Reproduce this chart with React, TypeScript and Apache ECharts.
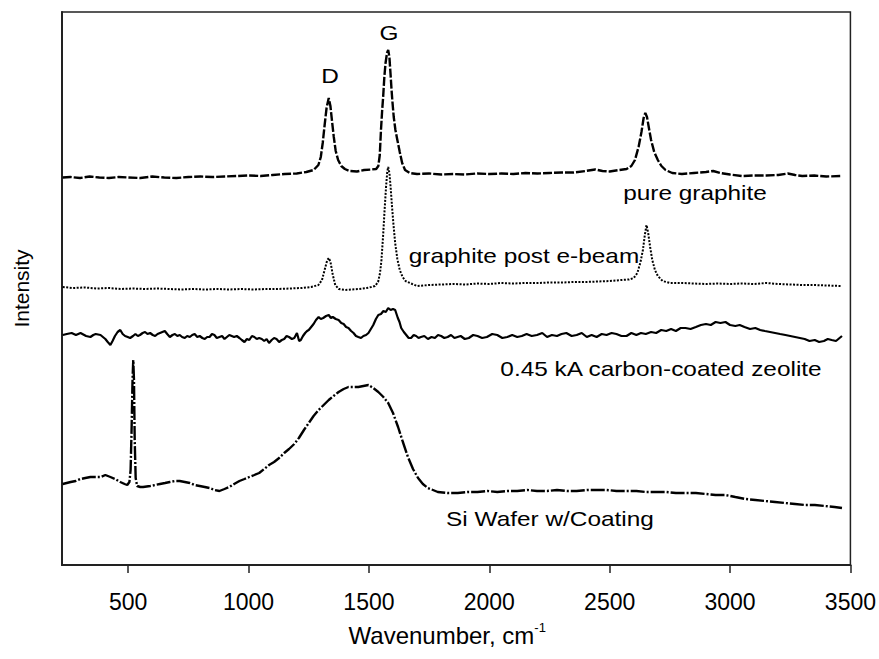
import React, { useEffect, useRef } from "react";
import * as echarts from "echarts";

// Raman spectra, wavenumber (cm-1) vs. intensity (arbitrary units, stacked offsets)
const pureGraphite: number[][] = [
  [228, 387.5], [260, 388], [300, 387], [340, 388.5], [380, 387.5], [420, 387], [460, 388], [500, 387.5],
  [550, 387], [600, 388.5], [650, 387.5], [700, 387], [750, 388], [800, 388.5], [850, 388], [900, 388.5],
  [950, 389], [1000, 389.5], [1050, 389], [1100, 390], [1150, 391], [1200, 391.5], [1240, 393], [1270, 395],
  [1290, 400], [1300, 408], [1308, 422], [1316, 440], [1324, 457], [1333, 467], [1340, 459], [1347, 443],
  [1354, 428], [1362, 414], [1372, 405], [1385, 399], [1400, 396], [1420, 394], [1450, 393.5], [1480, 395],
  [1510, 395.5], [1530, 396], [1539, 399], [1545, 410], [1550, 435], [1555, 455], [1559, 468], [1564, 488],
  [1569, 502], [1575, 512], [1580, 515], [1585, 508], [1590, 490], [1594, 475], [1597, 465], [1603, 448],
  [1610, 435], [1618, 425], [1628, 413], [1638, 402], [1650, 395], [1670, 392], [1700, 391], [1750, 391.5],
  [1800, 390.5], [1850, 391], [1900, 390.5], [1950, 391.5], [2000, 391], [2050, 391.5], [2100, 391],
  [2150, 392], [2200, 391.5], [2250, 392], [2300, 392.5], [2350, 392.5], [2400, 394], [2440, 395.5],
  [2470, 394], [2500, 393.5], [2540, 395], [2570, 396], [2590, 399], [2605, 405], [2620, 418], [2632, 433],
  [2641, 447], [2648, 452], [2655, 448], [2663, 437], [2672, 425], [2685, 413], [2700, 405], [2715, 399],
  [2732, 395], [2760, 392], [2800, 391], [2850, 392], [2900, 393], [2930, 394], [2960, 392], [3000, 390.5],
  [3050, 389], [3100, 389.5], [3150, 389.5], [3200, 390], [3240, 391.5], [3270, 390], [3300, 389],
  [3350, 389.5], [3400, 388.5], [3465, 389],
];

const graphitePostEbeam: number[][] = [
  [228, 278], [270, 277], [320, 277.5], [370, 276.5], [420, 277], [470, 276], [520, 276.5], [570, 276],
  [620, 276.5], [670, 276], [720, 275.5], [770, 276], [820, 275.5], [870, 276], [920, 275.5], [970, 276],
  [1020, 275.5], [1070, 276], [1120, 276], [1170, 276.5], [1220, 277], [1260, 278], [1290, 280], [1305, 285],
  [1318, 297], [1327, 305], [1334, 307], [1341, 302], [1350, 290], [1360, 280], [1375, 276], [1400, 275],
  [1430, 275.5], [1460, 276], [1490, 277], [1510, 278], [1525, 279], [1538, 283], [1546, 292], [1552, 305],
  [1559, 330], [1565, 355], [1571, 378], [1576, 393], [1580, 398], [1585, 392], [1590, 378], [1596, 358],
  [1602, 340], [1609, 322], [1618, 306], [1628, 295], [1640, 288], [1652, 284], [1680, 281], [1700, 279],
  [1750, 280], [1800, 280.5], [1850, 281], [1900, 280.5], [1950, 281.5], [2000, 281], [2050, 282],
  [2100, 281.5], [2150, 282], [2200, 282], [2250, 282.5], [2300, 282.5], [2350, 283], [2400, 283],
  [2450, 283.5], [2500, 284], [2550, 285], [2580, 285.5], [2600, 287], [2615, 292], [2628, 303], [2638, 315],
  [2646, 330], [2653, 340], [2660, 332], [2668, 318], [2677, 305], [2688, 295], [2700, 289], [2720, 284],
  [2750, 282], [2800, 282], [2850, 281.5], [2900, 281], [2950, 281.5], [3000, 281], [3050, 281.5],
  [3100, 281], [3150, 282], [3200, 281], [3250, 280.5], [3300, 280], [3350, 280], [3400, 279.5], [3465, 279],
];

const carbonCoatedZeolite: number[][] = [
  [228, 230], [245, 231], [265, 232], [283, 230], [302, 232], [325, 229], [343, 228], [355, 230], [365, 231],
  [385, 230], [395, 228], [405, 226], [415, 223], [426, 220], [435, 224], [445, 229], [456, 233], [467, 235],
  [477, 231], [487, 229], [498, 228], [508, 227], [520, 229], [530, 231], [540, 229], [549, 230], [560, 232],
  [570, 233], [580, 231], [591, 232], [602, 230], [612, 229], [622, 231], [632, 232], [642, 233], [652, 234],
  [662, 231], [673, 228], [684, 230], [694, 231], [704, 229], [714, 230], [724, 228], [735, 227], [745, 229],
  [756, 228], [766, 230], [776, 231], [787, 228], [797, 229], [808, 227], [818, 226], [828, 228], [838, 228],
  [848, 231], [858, 230], [868, 227], [879, 228], [890, 229], [900, 226], [910, 228], [920, 230], [930, 229],
  [940, 228], [951, 229], [962, 227], [972, 225], [983, 223], [993, 226], [1003, 225], [1014, 229],
  [1024, 228], [1034, 226], [1044, 227], [1055, 226], [1065, 224], [1075, 226], [1085, 222], [1096, 225],
  [1106, 227], [1116, 226], [1127, 223], [1138, 225], [1148, 226], [1158, 229], [1168, 228], [1180, 226],
  [1190, 227], [1201, 232], [1210, 224], [1217, 225], [1226, 229], [1235, 232], [1243, 234], [1250, 235],
  [1260, 238], [1270, 241], [1280, 245], [1291, 248], [1300, 246], [1310, 247], [1322, 249], [1333, 250],
  [1342, 247], [1350, 248], [1362, 246], [1374, 245], [1385, 242], [1395, 241], [1405, 238], [1415, 237],
  [1426, 234], [1436, 232], [1446, 229], [1456, 228], [1467, 227], [1477, 229], [1488, 230], [1498, 232],
  [1508, 236], [1518, 240], [1529, 246], [1539, 250], [1550, 251], [1560, 254], [1570, 253], [1580, 257],
  [1590, 255], [1600, 256], [1609, 255], [1620, 247], [1627, 243], [1634, 237], [1645, 233], [1655, 230],
  [1665, 227], [1675, 227], [1686, 230], [1696, 229], [1706, 227], [1716, 228], [1730, 229], [1745, 226],
  [1760, 228], [1774, 227], [1787, 230], [1800, 229], [1813, 227], [1827, 228], [1841, 230], [1855, 227],
  [1868, 228], [1881, 229], [1898, 226], [1915, 227], [1933, 230], [1951, 229], [1970, 227], [1990, 228],
  [2012, 231], [2033, 230], [2054, 227], [2075, 228], [2095, 230], [2116, 228], [2135, 229], [2155, 231],
  [2176, 229], [2198, 230], [2220, 232], [2240, 228], [2260, 230], [2281, 229], [2300, 231], [2320, 232],
  [2342, 229], [2363, 230], [2384, 232], [2405, 228], [2425, 230], [2446, 228], [2467, 231], [2487, 230],
  [2508, 232], [2528, 231], [2549, 229], [2570, 229], [2590, 232], [2611, 230], [2630, 232], [2650, 231],
  [2672, 233], [2693, 232], [2714, 235], [2735, 234], [2755, 236], [2775, 234], [2795, 237], [2815, 237],
  [2836, 236], [2858, 238], [2879, 240], [2900, 241], [2920, 240], [2940, 243], [2960, 242], [2981, 243],
  [3000, 240], [3022, 239], [3040, 240], [3060, 238], [3083, 236], [3105, 237], [3125, 235], [3145, 234],
  [3166, 233], [3187, 232], [3208, 231], [3230, 230], [3250, 229], [3270, 228], [3290, 227], [3310, 226],
  [3330, 224], [3352, 225], [3370, 223], [3390, 224], [3406, 226], [3422, 225], [3440, 224], [3450, 226],
  [3465, 229],
];

const siWaferCoating: number[][] = [
  [228, 81], [261, 83], [282, 84], [302, 86], [322, 87], [343, 88], [365, 88], [385, 88], [405, 90], [426, 88],
  [446, 86], [467, 83], [485, 81], [496, 80], [505, 83], [510, 95], [514, 135], [518, 185], [521, 205],
  [524, 185], [527, 125], [531, 87], [537, 79], [550, 78], [562, 78], [591, 79], [612, 80], [632, 81],
  [653, 82], [673, 83], [694, 84], [714, 84], [735, 83], [756, 82], [776, 80], [797, 79], [818, 78], [838, 77],
  [858, 75], [879, 74], [900, 76], [920, 78], [940, 81], [962, 84], [983, 86], [1003, 88], [1024, 90],
  [1044, 92], [1065, 96], [1085, 100], [1106, 103], [1127, 107], [1148, 112], [1168, 116], [1190, 121],
  [1209, 127], [1230, 135], [1250, 142], [1270, 149], [1291, 155], [1312, 160], [1333, 165], [1353, 169],
  [1374, 173], [1395, 176], [1415, 178], [1436, 178], [1456, 178], [1477, 179], [1498, 180], [1518, 177],
  [1539, 173], [1560, 168], [1580, 162], [1600, 152], [1621, 138], [1641, 123], [1662, 108], [1683, 96],
  [1704, 87], [1724, 81], [1745, 77], [1766, 75], [1786, 73], [1827, 72], [1869, 72], [1910, 73], [1951, 73],
  [1992, 74], [2033, 73], [2075, 74], [2116, 74], [2158, 75], [2198, 74], [2240, 74], [2281, 75], [2322, 74],
  [2363, 74], [2405, 75], [2446, 75], [2487, 75], [2528, 74], [2570, 74], [2611, 74], [2652, 73], [2693, 73],
  [2734, 73], [2775, 72], [2817, 72], [2858, 72], [2900, 71], [2940, 70], [2981, 70], [3022, 68], [3064, 66],
  [3105, 65], [3146, 64], [3187, 63], [3229, 62], [3270, 61], [3311, 60], [3352, 60], [3393, 59], [3434, 58],
  [3465, 57],
];

const xTickValues = [500, 1000, 1500, 2000, 2500, 3000, 3500];
const peakLabels = ["D", "G"];
const seriesLabels = [
  "pure graphite",
  "graphite post e-beam",
  "0.45 kA carbon-coated zeolite",
  "Si Wafer w/Coating",
];

const FONT = '"Liberation Sans", Arial, Helvetica, sans-serif';
const INK = "#000";

function textEl(text: string, x: number, y: number) {
  return {
    type: "text",
    x,
    y,
    scaleX: 1.22,
    silent: true,
    style: {
      text,
      fontSize: 20,
      fontFamily: FONT,
      fill: INK,
      align: "center",
      verticalAlign: "middle",
    },
  };
}

export default function App() {
  const ref = useRef<HTMLDivElement>(null);
  useEffect(() => {
    if (!ref.current) return;
    const chart = echarts.init(ref.current, null, { renderer: "svg" });
    const line = (name: string, data: number[][], type: any, width: number) => ({
      name,
      type: "line",
      data,
      showSymbol: false,
      symbol: "none",
      silent: true,
      lineStyle: { color: INK, width, type },
    });
    chart.setOption({
      animation: false,
      backgroundColor: "#fff",
      grid: {
        left: 62,
        right: 26,
        top: 12,
        bottom: 94,
        show: true,
        borderColor: "#222",
        borderWidth: 1.5,
      },
      xAxis: {
        type: "value",
        min: 225,
        max: 3500,
        name: "{a|Wavenumber, cm}{b|-1}",
        nameLocation: "middle",
        nameGap: 56,
        nameTextStyle: {
          padding: [0, 18, 0, 0],
          rich: {
            a: { fontSize: 24, fontFamily: FONT, color: INK, lineHeight: 28 },
            b: { fontSize: 13, fontFamily: FONT, color: INK, verticalAlign: "top", lineHeight: 14 },
          },
        },
        axisLine: { show: true, lineStyle: { color: "#222", width: 2 } },
        axisTick: {
          show: true,
          inside: false,
          length: 8,
          customValues: xTickValues,
          lineStyle: { color: "#222", width: 1.5 },
        },
        axisLabel: {
          customValues: xTickValues,
          margin: 25,
          fontSize: 23,
          fontFamily: FONT,
          color: INK,
          formatter: (v: number) => String(v),
        },
        splitLine: { show: false },
      },
      yAxis: {
        type: "value",
        min: 0,
        max: 553,
        name: "Intensity",
        nameLocation: "middle",
        nameGap: 30,
        nameTextStyle: { fontSize: 21, fontFamily: FONT, color: INK },
        axisLine: { show: true, lineStyle: { color: "#222", width: 2 } },
        axisTick: { show: false },
        axisLabel: { show: false },
        splitLine: { show: false },
      },
      graphic: [
        textEl(peakLabels[0], 330, 76),
        textEl(peakLabels[1], 389, 33),
        textEl(seriesLabels[0], 695, 193),
        textEl(seriesLabels[1], 524, 256),
        textEl(seriesLabels[2], 661, 369),
        textEl(seriesLabels[3], 550, 519),
      ],
      series: [
        line(seriesLabels[0], pureGraphite, [9, 2], 2.4),
        line(seriesLabels[1], graphitePostEbeam, [2, 1.5], 2),
        line(seriesLabels[2], carbonCoatedZeolite, "solid", 2.2),
        line(seriesLabels[3], siWaferCoating, [14, 2, 2, 2], 2.4),
      ],
    });
    return () => chart.dispose();
  }, []);
  return (
    <div
      ref={ref}
      style={{ position: "absolute", left: 0, top: 0, width: 879, height: 659, background: "#fff" }}
    />
  );
}
